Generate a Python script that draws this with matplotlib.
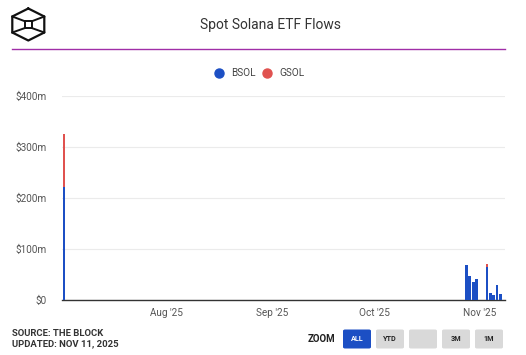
import pandas as pd
import matplotlib
matplotlib.use("Agg")
import matplotlib.pyplot as plt
import matplotlib.dates as mdates
from matplotlib.lines import Line2D
from matplotlib.patches import FancyBboxPatch

# dados (milhoes de USD)
dates = ["2025-07-02", "2025-10-28", "2025-10-29", "2025-10-30", "2025-10-31",
         "2025-11-03", "2025-11-04", "2025-11-05", "2025-11-06", "2025-11-07"]
bsol = [222, 69, 47, 36, 42, 64, 13, 10, 29, 12]
gsol = [103, 0, 0, 0, 0, 6, 0, 0, 0, 0]
y_ticks = [0, 100, 200, 300, 400]
y_labels = ["$0", "$100m", "$200m", "$300m", "$400m"]
x_ticks = ["2025-08-01", "2025-09-01", "2025-10-01", "2025-11-01"]
x_labels = ["Aug '25", "Sep '25", "Oct '25", "Nov '25"]

BLUE = "#1c4fc4"
RED = "#e0524f"
W, H = 526, 355

plt.rcParams['font.family'] = ['Roboto', 'DejaVu Sans']

def fx(x):
    return x / W

def fy(y):
    return 1 - y / H

fig = plt.figure(figsize=(W / 100, H / 100), dpi=100)
fig.patch.set_facecolor("white")

ax = fig.add_axes([fx(62), fy(300), fx(505) - fx(62), fy(96) - fy(300)])
x = mdates.date2num(pd.to_datetime(dates))
ax.bar(x, bsol, width=0.8, color=BLUE, zorder=3)
ax.bar(x, gsol, width=0.8, bottom=bsol, color=RED, zorder=3)

left = mdates.date2num(pd.Timestamp("2025-07-01")) + 0.4
ax.set_xlim(left, left + (505 - 62) / 3.41)
ax.set_ylim(0, 400)

ax.set_yticks(y_ticks)
ax.set_yticklabels(y_labels)
ax.set_xticks(mdates.date2num(pd.to_datetime(x_ticks)))
ax.set_xticklabels(x_labels)
ax.tick_params(axis='y', length=0, pad=11, labelsize=7.2, labelcolor="#555555")
ax.tick_params(axis='x', length=0, pad=6, labelsize=7.2, labelcolor="#555555")
ax.grid(axis='y', color="#ebebeb", lw=0.8, zorder=0)
for s in ["top", "right", "left"]:
    ax.spines[s].set_visible(False)
ax.spines["bottom"].set_color("#333333")
ax.spines["bottom"].set_linewidth(1.0)

# titulo e linha roxa
fig.text(fx(271), fy(25), "Spot Solana ETF Flows", ha="center", va="center",
         fontsize=10, color="#333333")
fig.add_artist(Line2D([fx(12), fx(505)], [fy(48.5), fy(48.5)], color="#a02ea8", lw=1.0))

# logo (cubo)
hexa = [(28.3, 8.5), (44.3, 16.5), (44.3, 32.5), (28.3, 40.5), (12.3, 32.5), (12.3, 16.5), (28.3, 8.5)]
fig.add_artist(Line2D([fx(p[0]) for p in hexa], [fy(p[1]) for p in hexa], color="#111111", lw=1.6))
sq = [(25, 21.3), (31.7, 21.3), (31.7, 28), (25, 28), (25, 21.3)]
fig.add_artist(Line2D([fx(p[0]) for p in sq], [fy(p[1]) for p in sq], color="#111111", lw=1.4))
for (a, b) in [((12.3, 16.5), (25, 21.3)), ((44.3, 16.5), (31.7, 21.3)),
               ((12.3, 32.5), (25, 28)), ((44.3, 32.5), (31.7, 28))]:
    fig.add_artist(Line2D([fx(a[0]), fx(b[0])], [fy(a[1]), fy(b[1])], color="#111111", lw=1.4))

# legenda
for cx, col, lab in [(219, BLUE, "BSOL"), (267, RED, "GSOL")]:
    fig.add_artist(Line2D([fx(cx)], [fy(73)], marker="o", markersize=6.5, color=col, lw=0))
    fig.text(fx(cx + 12), fy(73), lab, ha="left", va="center", fontsize=7.2, color="#444444")

# rodape
fig.text(fx(12), fy(333), "SOURCE: THE BLOCK", ha="left", va="center", fontsize=6.8,
         fontweight="bold", color="#333333")
fig.text(fx(12), fy(344), "UPDATED: NOV 11, 2025", ha="left", va="center", fontsize=6.8,
         fontweight="bold", color="#333333")
fig.text(fx(308), fy(338.5), "ZOOM", ha="left", va="center", fontsize=7,
         fontweight="bold", color="#222222")

buttons = [(343, "ALL", BLUE, "white"), (376, "YTD", "#d9d9d9", "#222222"),
           (409, "", "#d9d9d9", "#222222"), (442, "3M", "#d9d9d9", "#222222"),
           (475, "1M", "#d9d9d9", "#222222")]
for bx, lab, bg, fg in buttons:
    fig.add_artist(FancyBboxPatch((fx(bx), fy(348.5)), fx(28), fy(329.5) - fy(348.5),
                                  boxstyle="round,pad=0,rounding_size=0.004",
                                  facecolor=bg, edgecolor="none", transform=fig.transFigure))
    fig.text(fx(bx + 14), fy(339), lab, ha="center", va="center", fontsize=5.2,
             fontweight="bold", color=fg)

fig.savefig("out.png", dpi=100)
